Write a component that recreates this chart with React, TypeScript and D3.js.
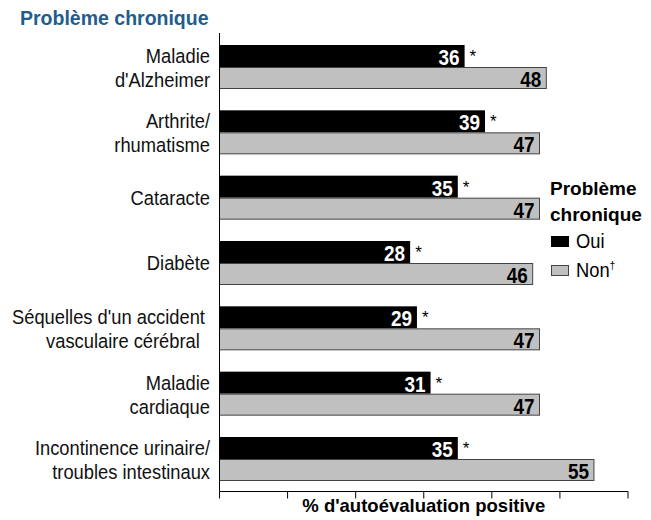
import React from "react";
import * as d3 from "d3";

const categories: string[][] = [
  ["Maladie", "d'Alzheimer"],
  ["Arthrite/", "rhumatisme"],
  ["Cataracte"],
  ["Diabète"],
  ["Séquelles d'un accident ", "vasculaire cérébral  "],
  ["Maladie", "cardiaque"],
  ["Incontinence urinaire/", "troubles intestinaux"],
];
const oui = [36, 39, 35, 28, 29, 31, 35];
const non = [48, 47, 47, 46, 47, 47, 55];
const xTicks = [0, 10, 20, 30, 40, 50, 60];

const WIDTH = 651;
const HEIGHT = 520;
const FONT = "'Liberation Sans', Arial, sans-serif";

// condensed-looking text: squeeze horizontally around the anchor point
function Squeezed(props: {
  x: number;
  y: number;
  sx: number;
  children: React.ReactNode;
  [k: string]: any;
}) {
  const { x, y, sx, children, ...rest } = props;
  return (
    <text transform={`translate(${x},${y}) scale(${sx},1)`} {...rest}>
      {children}
    </text>
  );
}

const App: React.FunctionComponent = function () {
  const x = d3.scaleLinear().domain([0, 60]).range([219.5, 628]);
  const y = d3
    .scaleBand<number>()
    .domain(d3.range(categories.length))
    .range([45, 481])
    .paddingInner(0.3265);
  const bh = y.bandwidth() / 2;
  const axisY = 491.5;

  return (
    <svg
      width={WIDTH}
      height={HEIGHT}
      style={{ position: "absolute", left: 0, top: 0, background: "#fff" }}
      fontFamily={FONT}
    >
      <text x={20} y={25} fontSize={19.5} fontWeight="bold" fill="#1f5d8c">
        Problème chronique
      </text>

      {categories.map((lines, i) => {
        const top = y(i) as number;
        const baselines =
          lines.length === 1 ? [top + bh + 7] : [top + 18, top + 42];
        return lines.map((l, j) => (
          <Squeezed
            key={"c" + i + "-" + j}
            x={210}
            y={baselines[j]}
            sx={0.94}
            textAnchor="end"
            fontSize={19.5}
            fill="#111"
            style={{ whiteSpace: "pre" }}
          >
            {l}
          </Squeezed>
        ));
      })}

      {oui.map((v, i) => {
        const top = y(i) as number;
        return (
          <g key={"o" + i}>
            <rect x={x(0)} y={top} width={x(v) - x(0)} height={bh} fill="#000" />
            <Squeezed
              x={x(v) - 5}
              y={top + bh - 2}
              sx={0.88}
              textAnchor="end"
              fontSize={21.5}
              fontWeight="bold"
              fill="#fff"
            >
              {v}
            </Squeezed>
            <text x={x(v) + 5} y={top + 17} fontSize={17} fill="#000">
              *
            </text>
          </g>
        );
      })}

      {non.map((v, i) => {
        const top = (y(i) as number) + bh;
        return (
          <g key={"n" + i}>
            <rect
              x={x(0)}
              y={top + 0.5}
              width={x(v) - x(0)}
              height={bh - 1}
              fill="#c0c0c0"
              stroke="#444"
              strokeWidth={1}
            />
            <Squeezed
              x={x(v) - 5}
              y={top + bh - 2}
              sx={0.88}
              textAnchor="end"
              fontSize={21.5}
              fontWeight="bold"
              fill="#000"
            >
              {v}
            </Squeezed>
          </g>
        );
      })}

      <line x1={x(0)} x2={x(0)} y1={33} y2={axisY} stroke="#000" strokeWidth={1} />
      <line x1={x(0)} x2={x(60)} y1={axisY} y2={axisY} stroke="#000" strokeWidth={1} />
      {xTicks.map((t) => (
        <line
          key={"t" + t}
          x1={x(t)}
          x2={x(t)}
          y1={axisY}
          y2={axisY + 7}
          stroke="#000"
          strokeWidth={1}
        />
      ))}
      <text
        x={(x(0) + x(60)) / 2}
        y={512}
        textAnchor="middle"
        fontSize={18.5}
        fontWeight="bold"
        fill="#000"
      >
        % d'autoévaluation positive
      </text>

      <g>
        <text x={550} y={195} fontSize={19} fontWeight="bold" fill="#000">
          Problème
        </text>
        <text x={550} y={221} fontSize={19} fontWeight="bold" fill="#000">
          chronique
        </text>
        <rect x={551} y={236} width={18} height={11} fill="#000" />
        <Squeezed x={576} y={248} sx={0.94} fontSize={19.5} fill="#000">
          Oui
        </Squeezed>
        <rect
          x={551.5}
          y={265.5}
          width={17}
          height={10}
          fill="#c0c0c0"
          stroke="#444"
          strokeWidth={1}
        />
        <Squeezed x={576} y={277} sx={0.94} fontSize={19.5} fill="#000">
          Non
          <tspan fontSize={11} dy={-8}>
            †
          </tspan>
        </Squeezed>
      </g>
    </svg>
  );
};

export default App;
